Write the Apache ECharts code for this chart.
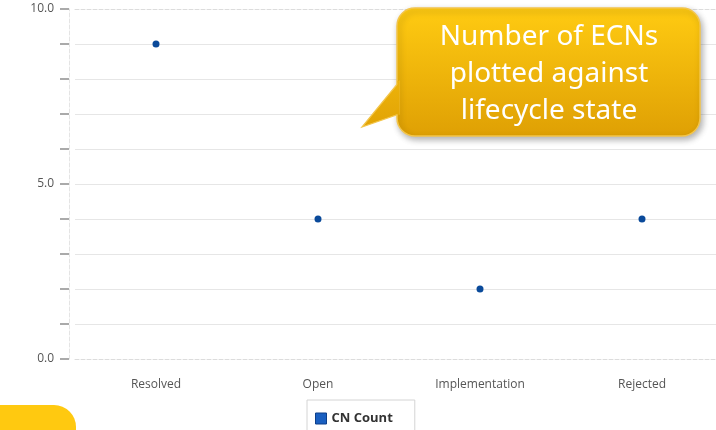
<!DOCTYPE html>
<html>
<head>
<meta charset="utf-8">
<script src="https://cdn.jsdelivr.net/npm/echarts@6/dist/echarts.min.js"></script>
<style>
html, body { margin: 0; padding: 0; background: #fff; }
#chart { width: 716px; height: 430px; }
</style>
</head>
<body>
<div id="chart"></div>
<script>
var categories = ['Resolved', 'Open', 'Implementation', 'Rejected'];
var cnCount = [9, 4, 2, 4];
var calloutLines = ['Number of ECNs', 'plotted against', 'lifecycle state'];

var myChart = echarts.init(document.getElementById('chart'));

// gradient in page pixels so box and pointer share it
var yellowFill = {
	type: 'linear', x: 0, y: 8, x2: 0, y2: 136, global: true,
	colorStops: [
		{ offset: 0, color: '#ffcb12' },
		{ offset: 1, color: '#dfa004' }
	]
};

var option = {
	backgroundColor: '#ffffff',
	animation: false,
	grid: {
		left: 75,
		top: 9,
		right: -7,
		height: 350,
		containLabel: false,
		outerBoundsMode: 'none'
	},
	xAxis: [{
		type: 'category',
		data: categories,
		axisLine: { lineStyle: { color: '#dcdcdc', type: 'dashed' } },
		axisTick: { alignWithLabel: true, length: 8, lineStyle: { color: '#999' } },
		axisLabel: { color: '#555', fontSize: 12, fontFamily: 'Open Sans', margin: 20 }
	}, {
		type: 'category',
		position: 'top',
		data: categories,
		axisLine: { lineStyle: { color: '#dcdcdc', type: 'dashed' } },
		axisTick: { show: false },
		axisLabel: { show: false }
	}],
	yAxis: {
		type: 'value',
		min: 0,
		max: 10,
		interval: 1,
		offset: 6,
		axisLine: { show: true, lineStyle: { color: '#e4e4e4', type: 'dashed' } },
		axisTick: { show: true, length: 9, lineStyle: { color: '#aaa', width: 2 } },
		axisLabel: {
			color: '#555',
			fontSize: 12,
			fontFamily: 'Open Sans',
			margin: 15,
			formatter: function (v) {
				return v % 5 === 0 ? v.toFixed(1) : '';
			}
		},
		splitLine: {
			showMinLine: false,
			showMaxLine: false,
			lineStyle: { color: '#e6e6e6', width: 1 }
		}
	},
	legend: {
		data: ['CN Count'],
		left: 307,
		top: 400,
		icon: 'rect',
		itemWidth: 11,
		itemHeight: 11,
		itemGap: 8,
		padding: [12, 22, 14, 8],
		borderColor: '#d4d4d4',
		borderWidth: 1,
		backgroundColor: '#fff',
		itemStyle: { color: '#1a5fc0', borderColor: '#0d3f8a', borderWidth: 1 },
		textStyle: { color: '#333', fontSize: 13, fontWeight: 'bold', fontFamily: 'Open Sans' }
	},
	series: [{
		name: 'CN Count',
		type: 'scatter',
		data: cnCount,
		symbolSize: 7,
		itemStyle: { color: '#0a4a9a', opacity: 1 }
	}],
	graphic: [{
		// callout box
		type: 'rect',
		z: 100,
		shape: { x: 397, y: 8, width: 303, height: 128, r: 18 },
		style: {
			fill: yellowFill,
			stroke: '#f3c54a',
			lineWidth: 1.5,
			shadowBlur: 6,
			shadowOffsetX: 2,
			shadowOffsetY: 3,
			shadowColor: 'rgba(0,0,0,0.3)'
		}
	}, {
		// callout pointer
		type: 'polygon',
		z: 101,
		shape: { points: [[399, 82], [362, 127], [399, 114]] },
		style: {
			fill: yellowFill,
			stroke: '#f3c54a',
			lineWidth: 1.2
		}
	}, {
		type: 'polygon',
		z: 102,
		shape: { points: [[397.5, 81], [399.5, 81], [399.5, 115], [397.5, 115]] },
		style: { fill: yellowFill }
	}, {
		type: 'text',
		z: 103,
		x: 549,
		y: 19,
		style: {
			text: calloutLines.join('\n'),
			fill: '#ffffff',
			font: '28px "Noto Sans"',
			lineHeight: 37,
			align: 'center',
			verticalAlign: 'top'
		}
	}, {
		// yellow corner shape bottom-left
		type: 'rect',
		z: 100,
		shape: { x: -30, y: 405, width: 106, height: 60, r: 22 },
		style: { fill: '#ffc910' }
	}]
};

myChart.setOption(option);
</script>
</body>
</html>
